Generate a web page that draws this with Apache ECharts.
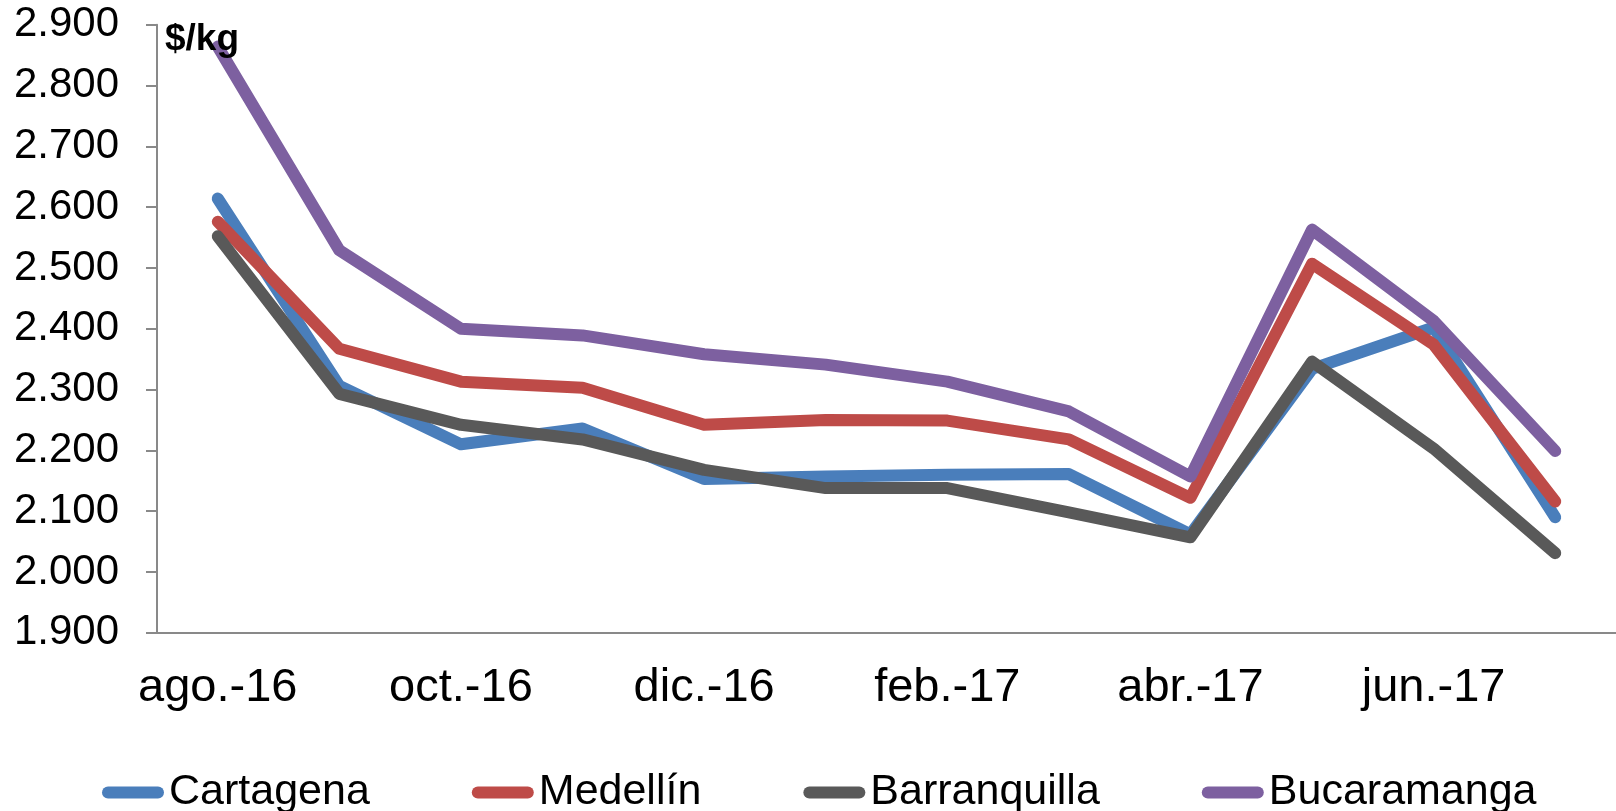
<!DOCTYPE html>
<html>
<head>
<meta charset="utf-8">
<script src="https://cdn.jsdelivr.net/npm/echarts@6.0.0/dist/echarts.min.js"></script>
<style>
  html, body { margin: 0; padding: 0; background: #fff; }
  #chart { width: 1616px; height: 811px; }
</style>
</head>
<body>
<div id="chart"></div>
<script>
// months shown on the x axis
const months = ['ago.-16', 'sep.-16', 'oct.-16', 'nov.-16', 'dic.-16', 'ene.-17',
  'feb.-17', 'mar.-17', 'abr.-17', 'may.-17', 'jun.-17', 'jul.-17'];

// prices in $/kg
const cartagena    = [2614, 2306, 2210, 2236, 2153, 2157, 2160, 2161, 2062, 2334, 2402, 2090];
const medellin     = [2576, 2367, 2313, 2303, 2242, 2250, 2249, 2218, 2122, 2507, 2374, 2116];
const barranquilla = [2552, 2293, 2242, 2218, 2168, 2138, 2138, 2098, 2057, 2346, 2203, 2031];
const bucaramanga  = [2864, 2529, 2400, 2389, 2358, 2341, 2313, 2264, 2157, 2563, 2413, 2199];

const cities = ['Cartagena', 'Medellín', 'Barranquilla', 'Bucaramanga'];
const colors = ['#4A7EBB', '#BE4B48', '#595959', '#7D60A0'];

const fmt = v => String(v).replace(/\B(?=(\d{3})+(?!\d))/g, '.');

const mkLine = (name, data, color) => ({
  name: name,
  type: 'line',
  data: data,
  symbol: 'none',
  color: color,
  lineStyle: { width: 12, color: color, cap: 'round', join: 'round' }
});

const chart = echarts.init(document.getElementById('chart'));
chart.setOption({
  animation: false,
  title: {
    text: '$/kg',
    left: 165,
    top: 21,
    padding: 0,
    textStyle: { fontFamily: 'Liberation Sans', fontWeight: 'bold', fontSize: 37, color: '#000' }
  },
  grid: { left: 157, top: 24.7, bottom: 178.2, right: -7, containLabel: false },
  legend: {
    data: cities,
    left: 102,
    top: 771,
    padding: 0,
    itemWidth: 62,
    itemHeight: 13,
    itemGap: 102,
    icon: 'path://M6,0L56,0A6,6,0,0,1,56,12L6,12A6,6,0,0,1,6,0Z',
    textStyle: { fontFamily: 'Liberation Sans', fontSize: 43, color: '#000' }
  },
  xAxis: {
    type: 'category',
    data: months,
    boundaryGap: true,
    axisLine: { lineStyle: { color: '#898989', width: 2 } },
    axisTick: { show: false },
    axisLabel: {
      interval: 1,
      margin: 32,
      fontFamily: 'Liberation Sans',
      fontSize: 47,
      color: '#000'
    },
    splitLine: { show: false }
  },
  yAxis: {
    type: 'value',
    min: 1900,
    max: 2900,
    interval: 100,
    axisLine: { show: true, lineStyle: { color: '#898989', width: 2 } },
    axisTick: { show: true, length: 11, lineStyle: { color: '#898989', width: 2 } },
    axisLabel: {
      margin: 38,
      formatter: fmt,
      fontFamily: 'Liberation Sans',
      fontSize: 42,
      color: '#000'
    },
    splitLine: { show: false }
  },
  series: [
    mkLine(cities[0], cartagena, colors[0]),
    mkLine(cities[1], medellin, colors[1]),
    mkLine(cities[2], barranquilla, colors[2]),
    mkLine(cities[3], bucaramanga, colors[3])
  ]
});
window.onresize = () => chart.resize();
</script>
</body>
</html>
